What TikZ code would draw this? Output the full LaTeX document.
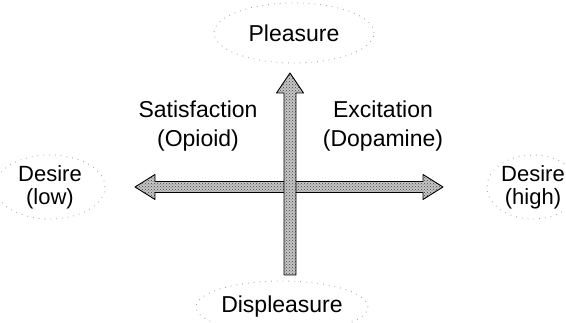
\documentclass[tikz,border=0pt]{standalone}
\usepackage{fontspec}
\setmainfont{Liberation Sans}
\usetikzlibrary{calc,patterns,shapes.geometric}
\tikzset{lbl/.style={align=center,inner sep=0pt,font=\fontsize{23}{29}\selectfont},
cloud/.style={lbl,ellipse,draw=gray!70,line width=.9pt,dash pattern=on .8pt off 5pt},
axis/.style={draw=black,line width=.9pt,line join=round,preaction={fill=gray!45},pattern=crosshatch dots,pattern color=gray!50!black}}

\begin{document}
\begin{tikzpicture}[x=1pt,y=-1pt]
\useasboundingbox (0,0) rectangle (566,323);
\node[cloud,minimum width=160pt,minimum height=60pt] (pleasure) at (294,33) {Pleasure};
\node[cloud,minimum width=150pt,minimum height=52pt] (displeasure) at (282,307) {Displeasure};
\node[cloud,minimum width=110pt,minimum height=64pt,font=\fontsize{22}{23}\selectfont] (low) at (50,187) {Desire\\(low)};
\node[cloud,minimum width=92pt,minimum height=64pt,font=\fontsize{22}{23}\selectfont] (high) at (533,187) {Desire\\(high)};
\node[lbl] (satis) at (198,126) {Satisfaction\\(Opioid)};\node[lbl] (excit) at (383,126) {Excitation\\(Dopamine)};
\coordinate (lowend) at (135,187);\coordinate (highend) at (443,187);\coordinate (topend) at (290,73);\coordinate (botend) at (290,275);
\draw[axis] (lowend)--++(20,-12.5)--++(0,7)--($(highend)+(-20,-5.5)$)--++(0,-7)--(highend)--++(-20,12.5)--++(0,-7)--($(lowend)+(20,5.5)$)--++(0,7)--cycle;
\draw[axis] ($(botend)+(-6,0)$)--($(topend)+(-6,20)$)--++(-7.5,0)--(topend)--++(13.5,20)--++(-7.5,0)--($(botend)+(6,0)$)--cycle;
\end{tikzpicture}
\end{document}
